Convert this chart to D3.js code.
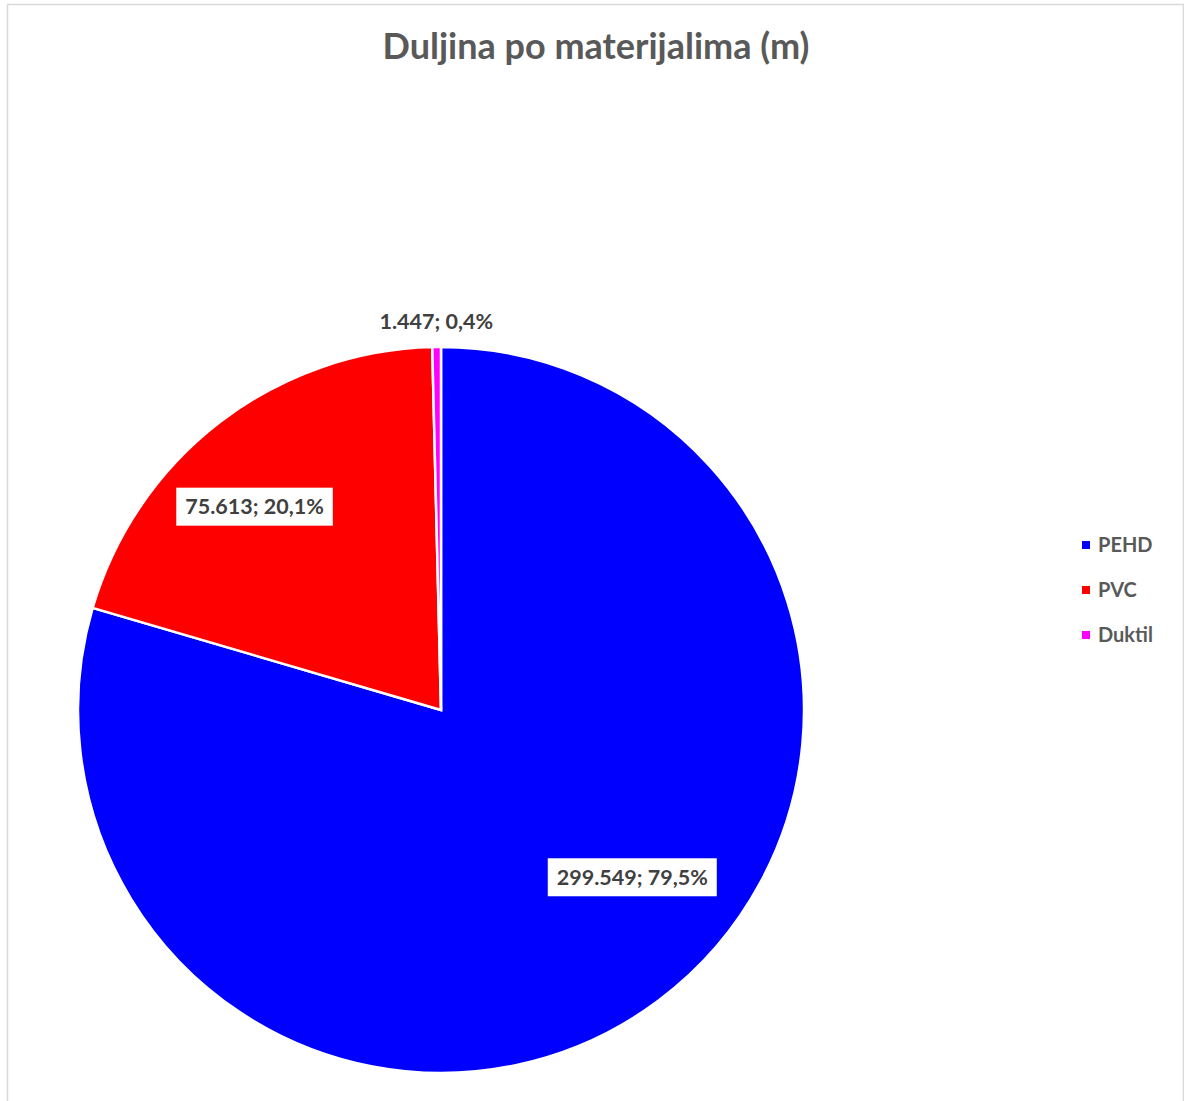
<!DOCTYPE html>
<html><head><meta charset="utf-8">
<script src="https://cdn.jsdelivr.net/npm/d3@7"></script>
<style>html,body{margin:0;padding:0;background:#fff;overflow:hidden}</style>
</head><body>
<svg id="c" width="1184" height="1101"></svg>
<script>
const title = "Duljina po materijalima (m)";
const categories = ["PEHD", "PVC", "Duktil"];
const values = [299549, 75613, 1447];
const colors = ["#0000FF", "#FF0000", "#FF00FF"];

const W = 1184, H = 1101;
const svg = d3.select("#c");
const font = "Lato, 'Open Sans', sans-serif";

svg.append("rect").attr("x", 7.5).attr("y", 4.5).attr("width", 1176).attr("height", 1110)
  .attr("fill", "#fff").attr("stroke", "#d9d9d9").attr("stroke-width", 1.5);

svg.append("text").attr("x", 596).attr("y", 59).attr("text-anchor", "middle")
  .attr("font-family", font).attr("font-weight", 700).attr("font-size", 36)
  .attr("fill", "#595959").text(title);

const cx = 441, cy = 710, R = 363;
const data = categories.map((c, i) => ({cat: c, value: values[i], color: colors[i]}));
const total = d3.sum(values);
const pie = d3.pie().value(d => d.value).sort(null);
const arcs = pie(data);
const arc = d3.arc().innerRadius(0).outerRadius(R);

const g = svg.append("g").attr("transform", `translate(${cx},${cy})`);
g.selectAll("path").data(arcs).enter().append("path")
  .attr("d", arc).attr("fill", d => d.data.color)
  .attr("stroke", "#fff").attr("stroke-width", 2.5).attr("stroke-linejoin", "miter");

const fmtNum = v => d3.format(",")(v).replace(/,/g, ".");
const fmtPct = v => d3.format(".1f")(v * 100).replace(".", ",") + "%";

// label placement: radius factor, angular shift (deg), boxed
const place = [{rf: 0.70, shift: -12, box: true}, {rf: 0.76, shift: -5, box: true}, {rf: 1.07, shift: 0, box: false}];

arcs.forEach((a, i) => {
  const mid = (a.startAngle + a.endAngle) / 2 + place[i].shift * Math.PI / 180;
  const r = R * place[i].rf;
  const x = r * Math.sin(mid), y = -r * Math.cos(mid);
  const lg = g.append("g").attr("transform", `translate(${x},${y})`);
  const t = lg.append("text").attr("text-anchor", "middle").attr("dy", "0.35em")
    .attr("font-family", font).attr("font-weight", 700).attr("font-size", 21.5)
    .attr("fill", "#404040").text(fmtNum(a.data.value) + "; " + fmtPct(a.data.value / total));
  if (place[i].box) {
    const bb = t.node().getBBox();
    lg.insert("rect", "text").attr("x", bb.x - 9).attr("y", -19).attr("width", bb.width + 18).attr("height", 38)
      .attr("fill", "#fff");
  }
});

const leg = svg.append("g");
categories.forEach((c, i) => {
  const y = 545 + i * 45;
  leg.append("rect").attr("x", 1082).attr("y", y - 4).attr("width", 8).attr("height", 8).attr("fill", colors[i]);
  leg.append("text").attr("x", 1098).attr("y", y).attr("dy", "0.35em")
    .attr("font-family", font).attr("font-weight", 700).attr("font-size", 20)
    .attr("fill", "#595959").text(c);
});
</script>
</body></html>
